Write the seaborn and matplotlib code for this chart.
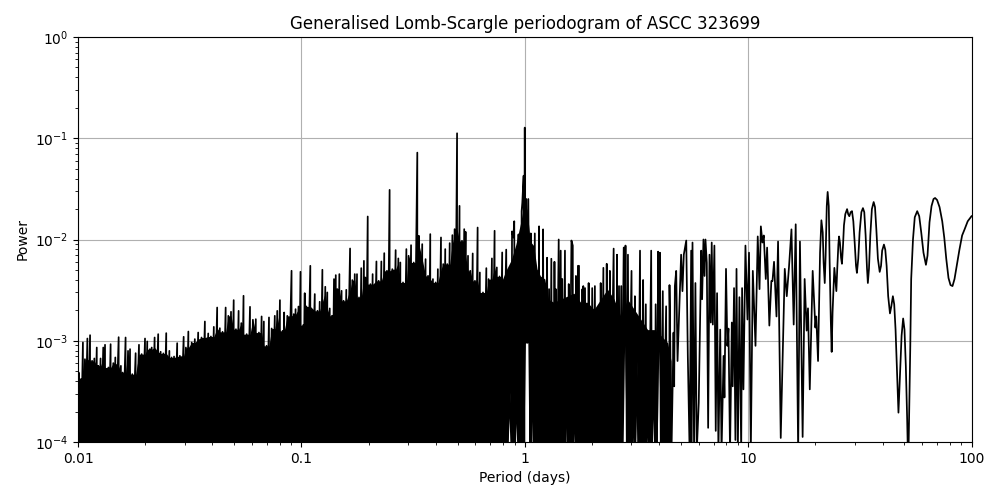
import numpy as np
import pandas as pd
import matplotlib
matplotlib.use("Agg")
import matplotlib.pyplot as plt
from matplotlib.ticker import FixedLocator, FixedFormatter
import seaborn as sns

TITLE = "Generalised Lomb-Scargle periodogram of ASCC 323699"
X_TICKS = [0.01, 0.1, 1, 10, 100]
X_TICK_LABELS = ["0.01", "0.1", "1", "10", "100"]

# Values, as log10(period in days) and log10(power).
# Short periods: only the tops of the unresolved forest can be read.
forest_log_period = [
    -2.000,-1.997,-1.987,-1.978,-1.969,-1.958,-1.946,-1.937,-1.927,-1.916,-1.909,-1.899,-1.887,-1.879,-1.864,-1.854,-1.842,
    -1.833,-1.818,-1.808,-1.800,-1.787,-1.776,-1.767,-1.757,-1.742,-1.727,-1.715,-1.700,-1.690,-1.678,-1.670,-1.657,
    -1.641,-1.630,-1.618,-1.605,-1.591,-1.581,-1.570,-1.556,-1.544,-1.527,-1.517,-1.506,-1.491,-1.477,-1.462,-1.447,
    -1.432,-1.417,-1.405,-1.392,-1.377,-1.365,-1.353,-1.339,-1.327,-1.315,-1.303,-1.293,-1.281,-1.269,-1.259,-1.245,
    -1.230,-1.217,-1.204,-1.190,-1.178,-1.168,-1.156,-1.145,-1.133,-1.119,-1.108,-1.096,-1.084,-1.077,-1.063,-1.044,
    -1.034,-1.026,-1.013,-1.004,-0.992,-0.985,
    -0.978,-0.960,-0.940,-0.928,-0.918,-0.906,-0.893,-0.884,-0.873,-0.863,-0.854,-0.846,-0.839,-0.830,-0.820,-0.811,
    -0.799,-0.782,-0.772,-0.761,-0.751,-0.742,-0.732,-0.720,-0.714,-0.703,-0.691,-0.681,-0.664,-0.654,-0.642,-0.629,
    -0.617,-0.605,-0.593,-0.578,-0.566,-0.557,-0.545,-0.530,-0.520,-0.509,-0.497,-0.481,-0.474,-0.459,-0.444,-0.433,
    -0.423,-0.411,-0.399,-0.389,-0.375,-0.365,-0.356,-0.347,-0.336,-0.324,-0.314,-0.303,-0.292,-0.281,-0.271,-0.265,
    -0.254,-0.244,-0.233,-0.223,-0.211,-0.201,-0.187,-0.172,-0.162,-0.147,-0.135,-0.125,-0.113,-0.101,
]
forest_log_power = [
    -3.300,-3.314,-3.379,-3.017,-3.182,-2.978,-2.945,-3.198,-3.175,-3.067,-3.248,-3.175,-3.067,-3.040,-3.264,-3.034,-3.221,
    -3.165,-2.965,-3.248,-3.314,-2.968,-3.100,-3.083,-3.330,-3.123,-3.040,-3.132,-2.978,-3.007,-3.083,-3.067,-2.968,
    -2.935,-3.109,-3.125,-2.925,-3.100,-3.165,-3.156,-3.024,-3.149,-2.961,-3.067,-2.909,-3.017,-2.984,-2.919,-2.968,
    -2.810,-2.928,-2.958,-2.863,-2.672,-2.876,-2.912,-2.672,-2.754,-2.714,-2.599,-2.886,-2.705,-2.826,-2.556,-2.935,
    -2.665,-2.793,-2.787,-2.919,-2.760,-2.810,-3.050,-2.770,-2.879,-2.754,-2.705,-2.599,-2.902,-2.721,-2.754,-2.309,
    -2.737,-2.688,-2.662,-2.319,-2.846,-2.530,
    -2.661,-2.260,-2.539,-2.704,-2.615,-2.299,-2.467,-2.523,-2.681,-2.753,-2.391,-2.352,-2.490,-2.342,-2.507,-2.605,
    -2.497,-2.089,-2.401,-2.342,-2.342,-2.572,-2.283,-2.211,-2.375,-1.773,-2.441,-2.342,-2.217,-2.408,-2.217,-2.135,
    -2.309,-1.510,-2.293,-2.105,-2.187,-2.227,-2.424,-2.095,-2.161,-2.056,-2.227,-1.142,-1.964,-2.046,-2.194,-2.359,
    -1.947,-2.391,-2.424,-2.293,-1.980,-2.243,-2.095,-2.243,-2.036,-1.957,-1.898,-0.951,-1.668,-2.013,-1.898,-1.924,
    -2.161,-2.309,-2.138,-2.408,-1.882,-2.326,-2.523,-2.283,-2.391,-2.187,-1.914,-2.276,-2.365,-2.128,
]
trough_log_power = -4.1

# Longer periods: individual crests and troughs can be followed.
resolved_log_period = [
    -0.083,-0.077,-0.068,-0.059,-0.057,-0.051,-0.047,-0.044,-0.037,-0.029,-0.028,-0.026,-0.022,-0.016,-0.014,-0.011,
    -0.005,-0.004,0.000,0.003,0.007,0.011,0.016,0.020,0.025,
    0.027,0.028,0.033,0.039,0.045,0.048,0.055,0.061,0.064,0.066,0.073,0.079,0.082,0.085,0.091,0.097,0.100,0.104,0.109,
    0.113,0.119,0.122,0.127,0.131,0.133,0.136,0.139,0.142,0.152,0.155,0.161,0.164,0.168,0.173,0.180,0.182,0.188,0.194,
    0.197,0.200,0.209,0.215,0.216,0.222,0.228,0.229,0.232,0.238,0.243,0.244,0.250,0.256,0.258,0.261,0.262,0.265,0.270,
    0.273,0.277,0.283,0.286,0.289,0.294,0.297,0.302,0.305,0.314,0.317,0.325,0.328,0.332,0.338,0.340,0.343,0.352,0.353,
    0.358,0.364,0.367,0.370,0.374,0.380,0.381,0.384,0.398,0.401,0.405,0.411,0.413,0.416,0.422,0.426,0.432,0.434,0.443,
    0.447,0.451,0.457,0.462,0.465,0.478,0.481,0.486,0.492,0.493,0.495,0.502,0.508,0.516,0.519,0.523,0.529,0.530,0.533,
    0.542,0.544,0.550,0.556,0.566,0.569,0.577,0.583,0.586,0.592,0.597,0.600,0.605,0.609,0.618,0.621,0.633,0.635,0.641,
    0.647,0.648,0.651,0.657,0.666,0.669,0.672,0.678,0.684,0.700,0.706,0.712,0.723,0.730,0.738,0.745,0.746,0.751,0.758,
    0.764,0.770,0.779,0.790,0.794,0.800,0.805,0.809,0.815,0.821,0.827,0.833,0.837,0.842,0.849,0.855,0.861,0.867,0.875,
    0.881,0.890,0.894,0.901,0.907,0.912,0.919,0.927,0.931,0.937,0.943,0.948,0.954,0.961,0.969,0.973,0.979,0.988,0.997,
    1.004,1.012,
    1.021,1.033,1.043,1.051,1.057,1.064,1.070,1.079,1.085,1.095,1.104,1.109,1.116,1.127,1.134,1.146,1.164,1.173,1.183,
    1.194,1.204,1.213,1.224,1.232,1.244,1.253,1.262,1.268,1.276,1.289,1.301,1.305,1.313,1.317,1.322,1.328,1.334,1.338,
    1.343,1.347,1.352,1.356,1.361,1.365,1.370,1.374,1.378,1.386,1.390,1.395,1.399,1.404,1.407,1.411,1.416,1.420,1.425,
    1.429,1.435,1.443,1.448,1.453,1.459,1.465,1.471,1.477,1.483,1.487,1.493,1.499,1.507,1.514,1.520,1.526,1.532,1.536,
    1.541,1.547,1.554,1.562,1.568,1.574,1.581,1.589,1.595,1.600,1.608,1.614,1.620,1.627,1.635,1.641,1.648,1.654,1.660,
    1.666,1.673,1.679,1.687,1.694,1.700,1.706,1.712,1.715,1.718,1.721,1.726,1.730,1.738,1.746,1.757,1.766,1.775,1.785,
    1.796,1.803,1.812,1.821,1.830,1.837,1.846,1.857,1.869,1.878,1.887,1.897,1.906,1.915,1.924,1.934,1.946,1.958,1.969,
    1.983,2.000,
]
resolved_log_power = [
    -2.10,-4.1,-3.51,-4.1,-1.92,-1.98,-1.82,-4.1,-3.52,-4.1,-1.95,-4.1,-3.26,-4.1,-1.72,-1.64,
    -1.37,-4.1,-0.895,-3.02,-1.60,-3.02,-1.60,-3.02,-4.1,
    -1.94,-4.1,-3.07,-4.1,-1.94,-4.1,-3.81,-4.1,-1.87,-4.1,-3.88,-4.1,-1.90,-4.1,-3.23,-4.1,-2.18,-4.1,-2.49,
    -4.1,-2.19,-4.1,-3.35,-4.1,-2.22,-4.1,-2.49,-4.1,-2.00,-4.1,-2.11,-4.1,-2.39,-4.1,-2.11,-4.1,-3.22,-4.1,
    -2.44,-4.1,-2.01,-2.06,-4.1,-3.47,-4.1,-2.36,-4.1,-2.26,-2.26,-4.1,-3.80,-4.1,-2.49,-4.1,-2.46,-4.1,-2.48,
    -4.1,-3.51,-4.1,-2.43,-4.1,-2.89,-4.1,-2.48,-4.1,-2.46,-4.1,-2.69,-4.1,-3.76,-4.1,-2.43,-4.1,-2.28,-4.1,
    -3.38,-4.1,-2.24,-4.1,-3.51,-4.1,-2.31,-4.1,-2.09,-4.1,-3.10,-4.1,-2.15,-4.1,-2.46,-4.1,-2.46,-4.1,-2.08,
    -3.04,-2.06,-4.1,-2.15,-4.1,-2.31,-4.1,-3.40,-4.1,-2.56,-4.1,-3.20,-4.1,-2.11,-4.1,-3.58,-4.1,-2.40,-4.1,
    -2.64,-4.1,-3.65,-4.1,-2.11,-4.1,-3.37,-4.1,-2.64,-4.1,-2.12,-3.10,-2.13,-4.1,-2.51,-4.1,-2.66,-4.1,-3.58,
    -4.1,-2.45,-2.92,-4.1,-2.92,-3.45,-2.46,-2.31,-3.20,-2.15,-2.51,-2.15,-2.01,-3.15,-4.1,-2.11,-4.1,-2.03,-4.1,
    -2.43,-4.1,-3.61,-2.11,-2.59,-2.00,-2.36,-2.00,-2.23,-3.86,-2.15,-2.82,-2.03,-2.84,-2.06,-3.89,-2.53,-4.1,-2.89,
    -4.1,-3.15,-3.56,-2.29,-3.05,-2.88,-4.1,-2.82,-3.45,-2.48,-3.98,-2.29,-4.1,-2.57,-4.1,-2.48,-3.48,-2.06,-2.79,
    -2.13,-4.1,
    -2.31,-3.05,-1.97,-2.49,-1.87,-2.03,-1.96,-2.39,-2.08,-2.85,-2.41,-2.41,-2.22,-2.76,-2.02,-3.96,-2.29,-2.56,-2.27,
    -1.90,-2.84,-1.85,-4.1,-2.02,-3.95,-2.39,-2.90,-2.68,-3.48,-2.31,-2.87,-2.76,-3.20,-2.72,-2.13,-1.81,-1.93,-2.23,
    -2.43,-2.16,-1.67,-1.53,-1.67,-2.23,-2.79,-3.11,-2.72,-2.28,-2.38,-2.51,-2.29,-2.05,-1.97,-2.03,-2.18,-2.24,-2.05,
    -1.86,-1.75,-1.70,-1.75,-1.77,-1.73,-1.72,-1.82,-2.03,-2.26,-2.33,-2.19,-1.93,-1.73,-1.69,-1.73,-1.96,-2.28,-2.43,
    -2.29,-1.96,-1.70,-1.63,-1.68,-1.90,-2.19,-2.32,-2.26,-2.11,-2.05,-2.10,-2.26,-2.56,-2.73,-2.66,-2.56,-2.64,-2.89,
    -3.28,-3.71,-3.39,-2.95,-2.78,-2.89,-3.25,-3.78,-4.1,-4.1,-3.71,-3.05,-2.39,-2.00,-1.78,-1.72,-1.77,-1.93,-2.13,
    -2.25,-2.16,-1.83,-1.67,-1.60,-1.59,-1.61,-1.68,-1.82,-1.98,-2.19,-2.38,-2.45,-2.46,-2.39,-2.26,-2.10,-1.96,-1.90,
    -1.82,-1.77,
]

# Top of the solid black mass between 0.8 and 4.5 days.
solid_log_period = [
    -0.101,-0.083,-0.060,-0.040,-0.020,-0.005,0.010,0.025,0.040,0.055,0.070,0.090,0.105,0.130,0.160,0.190,0.220,
    0.250,0.280,0.310,0.340,0.370,0.400,0.430,0.460,0.490,0.520,0.550,0.580,0.610,0.640,0.655,
]
solid_log_power = [
    -2.40,-2.30,-2.20,-2.05,-1.85,-1.68,-1.70,-2.02,-2.06,-2.29,-2.36,-2.39,-2.59,-2.62,-2.59,-2.56,-2.53,
    -2.62,-2.62,-2.69,-2.59,-2.49,-2.59,-2.76,-2.59,-2.69,-2.79,-2.89,-2.89,-2.95,-3.02,-3.20,
]
# Bottom edge of that mass: the white slits that open downward.
slit_log_period = [
    -0.101,-0.077,-0.068,-0.059,-0.044,-0.037,-0.029,-0.026,-0.022,-0.016,-0.004,0.003,0.020,0.025,0.028,0.033,0.039,
    0.048,0.055,0.061,0.066,0.073,0.079,0.085,0.091,0.097,0.122,0.127,0.131,0.182,0.188,0.194,0.216,0.222,0.228,
    0.244,0.250,0.256,0.273,0.277,0.283,0.328,0.332,0.338,0.353,0.358,0.364,0.370,0.374,0.380,0.401,0.405,0.411,
    0.440,0.447,0.455,0.481,0.486,0.492,0.495,0.502,0.508,0.519,0.523,0.529,0.544,0.550,0.556,0.569,0.577,0.583,
    0.592,0.600,0.609,0.635,0.641,0.647,0.655,
]
slit_log_power = [
    -4.1,-4.1,-3.51,-4.1,-4.1,-3.52,-4.1,-4.1,-3.26,-4.1,-4.1,-3.02,-3.02,-4.1,-4.1,-3.07,-4.1,
    -4.1,-3.81,-4.1,-4.1,-3.88,-4.1,-4.1,-3.23,-4.1,-4.1,-3.35,-4.1,-4.1,-3.22,-4.1,-4.1,-3.47,-4.1,
    -4.1,-3.80,-4.1,-4.1,-3.51,-4.1,-4.1,-3.76,-4.1,-4.1,-3.38,-4.1,-4.1,-3.51,-4.1,-4.1,-3.10,-4.1,
    -4.1,-3.04,-4.1,-4.1,-3.40,-4.1,-4.1,-3.20,-4.1,-4.1,-3.58,-4.1,-4.1,-3.65,-4.1,-4.1,-3.37,-4.1,
    -4.1,-3.10,-4.1,-4.1,-3.58,-4.1,-4.1,
]

# Each forest crest falls away to below the axis before the next one rises.
forest_x = np.array(forest_log_period)
forest_y = np.array(forest_log_power)
n = len(forest_x)
lx = np.repeat(forest_x, 2)
ly = np.empty(2 * n)
ly[0::2] = forest_y
ly[1::2] = trough_log_power
lx = np.concatenate([lx, resolved_log_period])
ly = np.concatenate([ly, resolved_log_power])
df = pd.DataFrame({"period": 10.0 ** lx, "power": 10.0 ** ly})

fig, ax = plt.subplots(figsize=(10, 5), dpi=100)
ax.set_xscale("log")
ax.set_yscale("log")

# The unresolved samples merge into solid black up to the lowest neighbouring top.
forest_solid = np.minimum(np.minimum(np.r_[forest_y[0], forest_y[:-1]], forest_y),
                          np.r_[forest_y[1:], forest_y[-1]])
ax.fill_between(10.0 ** forest_x, 10.0 ** trough_log_power, 10.0 ** forest_solid,
                color="k", linewidth=0, zorder=2)
band_x = np.unique(np.concatenate([solid_log_period, slit_log_period]))
band_top = np.interp(band_x, solid_log_period, solid_log_power)
band_bottom = np.interp(band_x, slit_log_period, slit_log_power)
ax.fill_between(10.0 ** band_x, 10.0 ** band_bottom, 10.0 ** band_top,
                where=band_top > band_bottom, color="k", linewidth=0, zorder=2)

sns.lineplot(data=df, x="period", y="power", estimator=None, sort=False,
             color="k", linewidth=1.25, ax=ax, zorder=3)
ax.set_xlim(0.01, 100)
ax.set_ylim(1e-4, 1)
ax.xaxis.set_major_locator(FixedLocator(X_TICKS))
ax.xaxis.set_major_formatter(FixedFormatter(X_TICK_LABELS))
ax.grid(True, which="major")
ax.set_title(TITLE)
ax.set_xlabel("Period (days)")
ax.set_ylabel("Power")
fig.subplots_adjust(left=0.078, right=0.9715, top=0.926, bottom=0.116)
fig.savefig("out.png", dpi=100)
